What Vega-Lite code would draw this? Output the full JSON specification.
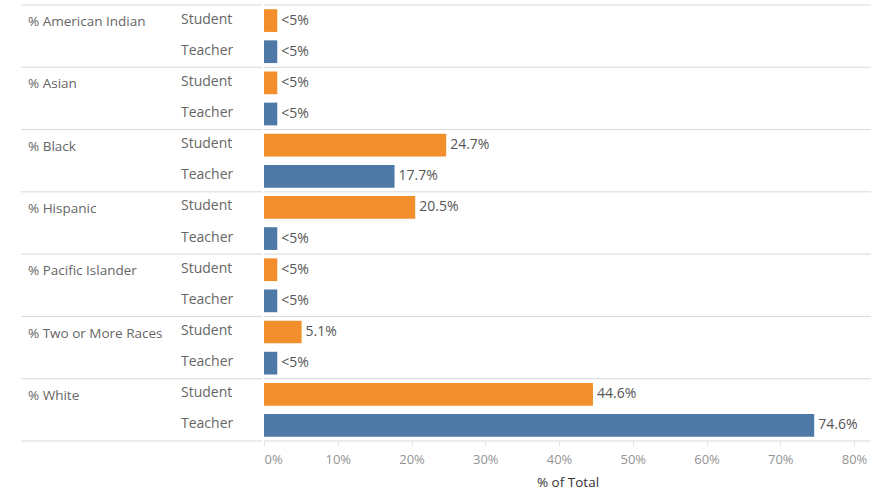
{
  "$schema": "https://vega.github.io/schema/vega-lite/v6.json",
  "padding": {"left": 20, "top": 4, "right": 1, "bottom": 4},
  "autosize": {"type": "pad"},
  "config": {"view": {"stroke": null}, "font": "Open Sans"},
  "spacing": 0,
  "data": {"values": [
    {"race": "% American Indian", "type": "Student", "value": 1.8},
    {"race": "% American Indian", "type": "Teacher", "value": 1.8},
    {"race": "% Asian", "type": "Student", "value": 1.8},
    {"race": "% Asian", "type": "Teacher", "value": 1.8},
    {"race": "% Black", "type": "Student", "value": 24.7},
    {"race": "% Black", "type": "Teacher", "value": 17.7},
    {"race": "% Hispanic", "type": "Student", "value": 20.5},
    {"race": "% Hispanic", "type": "Teacher", "value": 1.8},
    {"race": "% Pacific Islander", "type": "Student", "value": 1.8},
    {"race": "% Pacific Islander", "type": "Teacher", "value": 1.8},
    {"race": "% Two or More Races", "type": "Student", "value": 5.1},
    {"race": "% Two or More Races", "type": "Teacher", "value": 1.8},
    {"race": "% White", "type": "Student", "value": 44.6},
    {"race": "% White", "type": "Teacher", "value": 74.6}
  ]},
  "transform": [
    {"calculate": "datum.race + '|' + datum.type", "as": "key"},
    {"calculate": "datum.value < 5 ? '<5%' : format(datum.value, '.1f') + '%'", "as": "label"},
    {"calculate": "datum.type == 'Student' ? datum.race : ''", "as": "raceLabel"}
  ],
  "hconcat": [
    {
      "width": 241,
      "height": 436,
      "encoding": {
        "y": {"field": "key", "type": "nominal", "sort": null, "axis": null, "scale": {"paddingInner": 0, "paddingOuter": 0}}
      },
      "layer": [
        {
          "mark": {"type": "rule", "color": "#d9d9d9", "strokeWidth": 1},
          "encoding": {
            "y": {"field": "key", "type": "nominal", "sort": null, "bandPosition": 0},
            "strokeOpacity": {"condition": {"test": "datum.type == 'Student'", "value": 1}, "value": 0}
          }
        },
        {
          "mark": {"type": "rule", "color": "#d9d9d9", "strokeWidth": 1},
          "encoding": {
            "y": {"field": "key", "type": "nominal", "sort": null, "bandPosition": 1},
            "strokeOpacity": {"condition": {"test": "datum.race == '% White' && datum.type == 'Teacher'", "value": 1}, "value": 0}
          }
        },
        {
          "mark": {"type": "text", "align": "left", "baseline": "middle", "fontSize": 13.5, "color": "#666666", "dy": 1.5},
          "encoding": {
            "x": {"datum": "race", "type": "nominal", "scale": {"type": "point", "domain": ["race", "type"], "range": [7, 160], "padding": 0}, "axis": null},
            "text": {"field": "raceLabel"}
          }
        },
        {
          "mark": {"type": "text", "align": "left", "baseline": "middle", "fontSize": 14, "color": "#666666", "dy": -1},
          "encoding": {
            "x": {"datum": "type", "type": "nominal"},
            "text": {"field": "type"}
          }
        }
      ]
    },
    {
      "width": 607,
      "height": 436,
      "encoding": {
        "y": {"field": "key", "type": "nominal", "sort": null, "axis": null, "scale": {"paddingInner": 0, "paddingOuter": 0}}
      },
      "layer": [
        {
          "mark": {"type": "rule", "color": "#d9d9d9", "strokeWidth": 1},
          "encoding": {
            "y": {"field": "key", "type": "nominal", "sort": null, "bandPosition": 0},
            "strokeOpacity": {"condition": {"test": "datum.type == 'Student'", "value": 1}, "value": 0}
          }
        },
        {
          "mark": {"type": "rule", "color": "#d9d9d9", "strokeWidth": 1},
          "encoding": {
            "y": {"field": "key", "type": "nominal", "sort": null, "bandPosition": 1},
            "strokeOpacity": {"condition": {"test": "datum.race == '% White' && datum.type == 'Teacher'", "value": 1}, "value": 0}
          }
        },
        {
          "mark": {"type": "bar", "height": {"band": 0.73}},
          "encoding": {
            "x": {
              "field": "value", "type": "quantitative",
              "scale": {"domain": [0, 82.3], "nice": false},
              "axis": {
                "values": [0, 10, 20, 30, 40, 50, 60, 70, 80],
                "labelExpr": "datum.value + '%'",
                "title": "% of Total",
                "grid": false, "domain": false,
                "tickColor": "#e6e6e6", "tickSize": 5,
                "labelColor": "#949494", "labelFontSize": 13, "labelPadding": 7,
                "labelFlush": true,
                "titleColor": "#333333", "titleFontSize": 13.5, "titleFontWeight": 500, "titlePadding": 9
              }
            },
            "color": {"field": "type", "type": "nominal", "scale": {"domain": ["Student", "Teacher"], "range": ["#F28E2B", "#4E79A7"]}, "legend": null}
          }
        },
        {
          "mark": {"type": "text", "align": "left", "baseline": "middle", "dx": 4, "fontSize": 14, "color": "#555555"},
          "encoding": {
            "x": {"field": "value", "type": "quantitative"},
            "text": {"field": "label"}
          }
        },
        {
          "mark": {"type": "rule", "color": "#d9d9d9", "strokeWidth": 1},
          "encoding": {"x": {"datum": 0, "type": "quantitative"}}
        }
      ]
    }
  ]
}
